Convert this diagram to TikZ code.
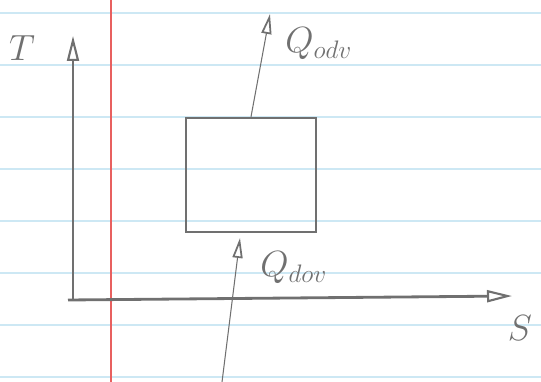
\documentclass[tikz,border=0pt]{standalone}
\usepackage{amsmath,amssymb}
\usepackage{xcolor}
\usepackage{tikz}
\usetikzlibrary{positioning,arrows.meta,calc}
\definecolor{pencil}{HTML}{707070}
\definecolor{ruleblue}{HTML}{CDE8F4}
\definecolor{marginred}{HTML}{E8605F}
\tikzset{
  axis/.style={draw=pencil,line width=1.6pt,-{Triangle[open,length=5mm,width=2.4mm,line width=1.2pt]}},
  flow/.style={draw=pencil,line width=0.6pt,-{Triangle[open,length=4mm,width=2mm,line width=1pt]}},
  cyc/.style={draw=pencil,line width=1.4pt,minimum width=26mm,minimum height=22.8mm,inner sep=0pt},
  lbl/.style={text=pencil,font=\huge,inner sep=0pt},
}
\begin{document}
\begin{tikzpicture}[x=0.2mm,y=-0.2mm]
\useasboundingbox (0,0) rectangle (541,382);
% paper
\foreach \y in {13,65,117,169,221,273,325,377}
  \draw[ruleblue,line width=0.6pt] (0,\y) -- (541,\y);
\draw[marginred,line width=1pt] (111,0) -- (111,382);

% axes
\coordinate (O) at (73,300);
\coordinate (Ttip) at (73,36);
\coordinate (Sstart) at (68,300);
\coordinate (Stip) at (512,296);
\draw[axis] (O) -- (Ttip);
\draw[axis] (Sstart) -- (Stip);
\node[lbl] (T) at (22,48) {$T$};
\node[lbl] (S) at (520,328) {$S$};

% cycle
\node[cyc] (cycle) at (251,175) {};
\coordinate (qout) at (270,14);
\coordinate (qinstart) at (222,382);
\coordinate (qin) at (240,238);
\draw[flow] (cycle.north) -- (qout);
\draw[flow] (qinstart) -- (qin);
\node[lbl,right=3mm of qout,yshift=-6mm] (Qodv) {$Q_{odv}$};
\node[lbl,right=4mm of qin,yshift=-6mm] (Qdov) {$Q_{dov}$};
\end{tikzpicture}
\end{document}
